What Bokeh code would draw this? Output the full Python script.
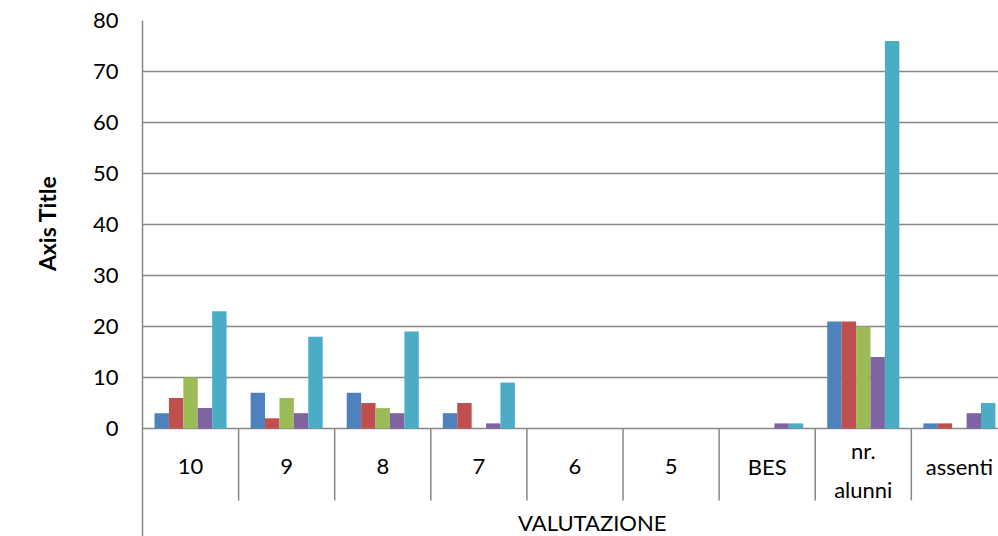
from bokeh.plotting import figure
from bokeh.models import ColumnDataSource, Range1d, FixedTicker, Title
from bokeh.core.properties import value
from bokeh.embed import file_html
from bokeh.resources import INLINE

# ---- data ----
categories = ["10", "9", "8", "7", "6", "5", "BES", "nr. alunni", "assenti"]
series_blue = [3, 7, 7, 3, 0, 0, 0, 21, 1]
series_red = [6, 2, 5, 5, 0, 0, 0, 21, 1]
series_green = [10, 6, 4, 0, 0, 0, 0, 20, 0]
series_purple = [4, 3, 3, 1, 0, 0, 1, 14, 3]
series_cyan = [23, 18, 19, 9, 0, 0, 1, 76, 5]
y_ticks = [0, 10, 20, 30, 40, 50, 60, 70, 80]
group_label = "VALUTAZIONE"
y_title = "Axis Title"

series = [series_blue, series_red, series_green, series_purple, series_cyan]
colors = ["#4F81BD", "#C0504D", "#9BBB59", "#8064A2", "#4BACC6"]

FONT = "Lato"
GRID = "#888888"

p = figure(width=998, height=536, output_backend="svg", toolbar_location=None,
           x_range=Range1d(0, 8.907), y_range=Range1d(-21.18, 80),
           x_axis_location=None, min_border_left=142, min_border_right=0,
           min_border_top=20, min_border_bottom=0)
p.outline_line_color = None
p.background_fill_color = "white"
p.border_fill_color = "white"

# y axis
yax = p.yaxis[0]
yax.ticker = FixedTicker(ticks=y_ticks)
yax.major_tick_line_color = None
yax.minor_tick_line_color = None
yax.major_tick_out = 0
yax.major_tick_in = 0
yax.axis_line_color = GRID
yax.axis_line_width = 1.5
yax.major_label_standoff = 24
yax.major_label_text_font = FONT
yax.major_label_text_font_size = "22px"
yax.major_label_text_color = "black"

p.xgrid.visible = False
p.ygrid.grid_line_color = GRID
p.ygrid.grid_line_width = 1.5

# bars
n = len(categories)
bw = 0.15
for k, (vals, col) in enumerate(zip(series, colors)):
    xs = [i + 0.5 + (k - 2) * bw for i in range(n)]
    src = ColumnDataSource(dict(x=xs, top=vals))
    p.vbar(x="x", top="top", bottom=0, width=bw, source=src,
           fill_color=col, line_color=None)

# category separators
sep_x = list(range(1, n))
p.segment(x0=sep_x, x1=sep_x, y0=[0] * len(sep_x), y1=[-14.1] * len(sep_x),
          line_color=GRID, line_width=1.5)

# category labels (wrapped ones on two lines)
wrap = {"nr. alunni"}
single = [(i + 0.5, c) for i, c in enumerate(categories) if c not in wrap]
first = [(i + 0.5, c.split(" ", 1)[0]) for i, c in enumerate(categories) if c in wrap]
second = [(i + 0.5, c.split(" ", 1)[1]) for i, c in enumerate(categories) if c in wrap]
lab_kw = dict(text_font=value(FONT), text_font_size="22px", text_align="center",
              text_baseline="alphabetic", text_color="black")
p.text(x=[s[0] for s in single], y=[-7.4] * len(single), text=[s[1] for s in single], **lab_kw)
p.text(x=[s[0] for s in first], y=[-4.3] * len(first), text=[s[1] for s in first], **lab_kw)
p.text(x=[s[0] for s in second], y=[-11.9] * len(second), text=[s[1] for s in second], **lab_kw)

# group label
p.text(x=[4.68], y=[-18.4], text=[group_label], **lab_kw)

# y axis title (left side, placed over the 0-80 span)
p.add_layout(Title(text=y_title, align="right", offset=155, standoff=58,
                   vertical_align="bottom",
                   text_font=FONT, text_font_size="23px", text_font_style="bold",
                   text_color="black"), "left")

open("out.html", "w").write(file_html(p, INLINE))
